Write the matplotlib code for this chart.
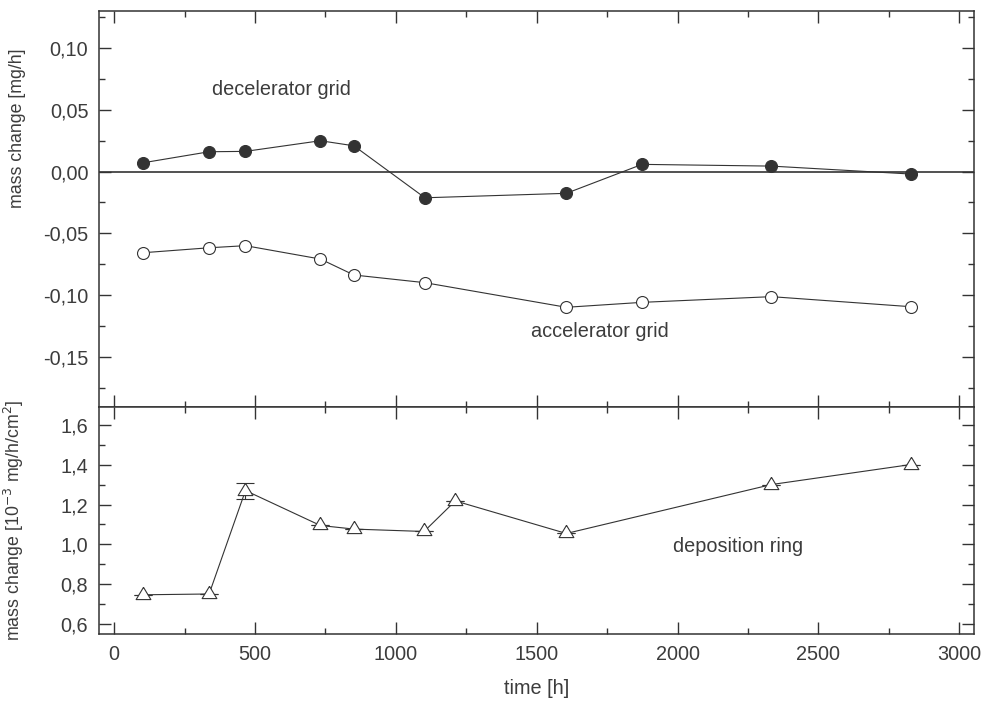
import numpy as np
import matplotlib
matplotlib.use('Agg')
import matplotlib.pyplot as plt
from matplotlib.ticker import MultipleLocator, FuncFormatter

# data
t_grid = [103, 337, 466, 732, 851, 1103, 1605, 1874, 2333, 2827]
decel = [0.0071, 0.0160, 0.0163, 0.0249, 0.0208, -0.0212, -0.0176, 0.0058, 0.0044, -0.0020]
accel = [-0.0656, -0.0616, -0.0599, -0.0707, -0.0836, -0.0898, -0.1097, -0.1057, -0.1011, -0.1092]

t_ring = [103, 337, 466, 732, 851, 1100, 1211, 1605, 2333, 2827]
ring = [0.748, 0.752, 1.27, 1.095, 1.077, 1.065, 1.218, 1.055, 1.30, 1.40]
ring_err = [0, 0, 0.04, 0, 0, 0, 0, 0, 0, 0]

ink = '#333333'
txt = '#3c3c3c'
plt.rcParams['font.family'] = ['Liberation Sans', 'DejaVu Sans']
plt.rcParams['text.color'] = txt
plt.rcParams['axes.labelcolor'] = txt
plt.rcParams['xtick.color'] = ink
plt.rcParams['ytick.color'] = ink
plt.rcParams['xtick.labelcolor'] = txt
plt.rcParams['ytick.labelcolor'] = txt

# triangle centred on its centroid (like the original software)
tri = [(0, 0.667), (-0.6, -0.333), (0.6, -0.333), (0, 0.667)]

fig = plt.figure(figsize=(9.83, 7.02), dpi=100)
ax1 = fig.add_axes([0.1004, 0.4207, 0.8901, 0.5641])
ax2 = fig.add_axes([0.1004, 0.0964, 0.8901, 0.3243])

comma = lambda fmt: FuncFormatter(lambda v, p: (fmt % v).replace('.', ','))

for ax in (ax1, ax2):
    for s in ax.spines.values():
        s.set_color(ink)
        s.set_linewidth(1.1)
    ax.tick_params(which='both', direction='in', top=True, right=True,
                   labelsize=14.3, width=1.0, color=ink, pad=7.5)
    ax.tick_params(which='major', length=8.3)
    ax.tick_params(which='minor', length=4.5)
    ax.set_xlim(-55, 3051)
    ax.xaxis.set_major_locator(MultipleLocator(500))
    ax.xaxis.set_minor_locator(MultipleLocator(250))

# top panel
ax1.axhline(0, color=ink, lw=1.2, zorder=1)
ax1.plot(t_grid, decel, '-', color=ink, lw=0.8, marker='o', ms=8.6,
         mfc=ink, mec=ink, mew=0.8, zorder=3)
ax1.plot(t_grid, accel, '-', color=ink, lw=0.8, marker='o', ms=8.6,
         mfc='white', mec=ink, mew=0.8, zorder=3)
ax1.set_ylim(-0.19, 0.13)
ax1.yaxis.set_major_locator(MultipleLocator(0.05))
ax1.yaxis.set_minor_locator(MultipleLocator(0.025))
ax1.yaxis.set_major_formatter(comma('%.2f'))
ax1.tick_params(axis='x', labelbottom=False)
ax1.set_ylabel('mass change [mg/h]', fontsize=12.8)
ax1.yaxis.set_label_coords(-0.083, 0.704)
ax1.text(347, 0.0666, 'decelerator grid', fontsize=14.3, ha='left', va='center')
ax1.text(1478, -0.1294, 'accelerator grid', fontsize=14.3, ha='left', va='center')

# bottom panel
ax2.errorbar(t_ring, ring, yerr=ring_err, fmt='-', color=ink, lw=0.8,
             marker=tri, ms=11.8, mfc='white', mec=ink, mew=0.8,
             ecolor=ink, elinewidth=0.8, capsize=6.5, capthick=0.8, zorder=3)
ax2.set_ylim(0.55, 1.69)
ax2.yaxis.set_major_locator(MultipleLocator(0.2))
ax2.yaxis.set_minor_locator(MultipleLocator(0.1))
ax2.yaxis.set_major_formatter(comma('%.1f'))
ax2.set_ylabel('mass change [10$^{-3}$ mg/h/cm$^{2}$]', fontsize=12.8)
ax2.yaxis.set_label_coords(-0.083, 0.5)
ax2.set_xlabel('time [h]', fontsize=14.3, labelpad=11)
ax2.text(1982, 0.99, 'deposition ring', fontsize=14.3, ha='left', va='center')

fig.savefig('out.png', dpi=100)
